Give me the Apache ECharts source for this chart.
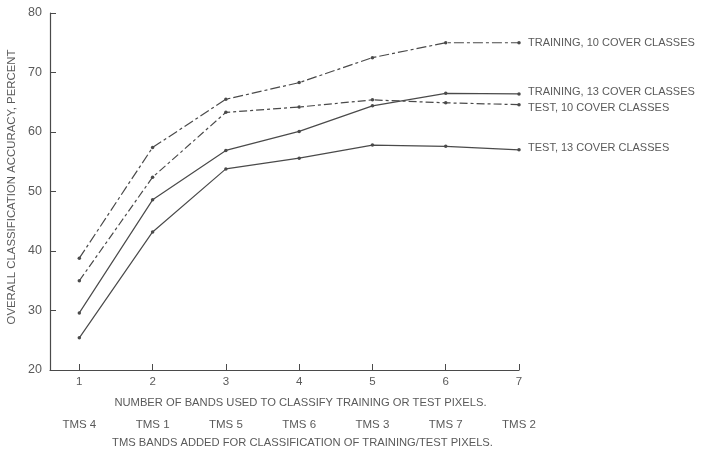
<!DOCTYPE html>
<html><head><meta charset="utf-8">
<script src="https://cdn.jsdelivr.net/npm/echarts@6/dist/echarts.min.js"></script>
<style>html,body{margin:0;padding:0;background:#fff}#c{width:701px;height:450px}</style>
</head><body><div id="c"></div>
<script>
var bands = [1, 2, 3, 4, 5, 6, 7];
var tmsLabels = ['TMS 4', 'TMS 1', 'TMS 5', 'TMS 6', 'TMS 3', 'TMS 7', 'TMS 2'];
var yTicks = [20, 30, 40, 50, 60, 70, 80];
var training10 = [38.8, 57.4, 65.5, 68.3, 72.5, 75.0, 75.0];
var test10 = [35.0, 52.4, 63.3, 64.2, 65.4, 64.9, 64.6];
var training13 = [29.6, 48.6, 56.9, 60.1, 64.4, 66.5, 66.4];
var test13 = [25.4, 43.2, 53.8, 55.6, 57.8, 57.6, 57.0];
var seriesNames = ['TRAINING, 10 COVER CLASSES', 'TRAINING, 13 COVER CLASSES', 'TEST, 10 COVER CLASSES', 'TEST, 13 COVER CLASSES'];

function pairs(v) { return bands.map(function (b, i) { return [b, v[i]]; }); }
var ink = '#4a4a4a';
var txt = '#5a5a5a';
var font = 'Liberation Sans';

function mk(name, vals, dash, off) {
  return {
    name: name, type: 'line', data: pairs(vals),
    symbol: 'circle', symbolSize: 3.5,
    lineStyle: { color: ink, width: 1.2, type: dash },
    itemStyle: { color: ink },
    endLabel: { show: true, formatter: name, color: txt, fontFamily: font, fontSize: 11, distance: 9, offset: off },
    animation: false
  };
}

var chart = echarts.init(document.getElementById('c'));
chart.setOption({
  backgroundColor: '#fff',
  animation: false,
  grid: { left: 50, right: 182, top: 13, bottom: 80, containLabel: false, outerBoundsMode: 'none' },
  xAxis: [{
    type: 'value', min: 0.6, max: 7,
    axisLine: { lineStyle: { color: ink, width: 1.2 } },
    axisTick: { inside: true, length: 6, customValues: bands, lineStyle: { color: ink } },
    axisLabel: { customValues: bands, color: txt, fontFamily: font, fontSize: 11.5, margin: 6 },
    splitLine: { show: false },
    name: 'NUMBER OF BANDS USED TO CLASSIFY TRAINING OR TEST PIXELS.',
    nameLocation: 'middle', nameGap: 27,
    nameTextStyle: { color: txt, fontFamily: font, fontSize: 11.2, padding: [0, 0, 0, 32] }
  }, {
    type: 'value', min: 0.6, max: 7, position: 'bottom', offset: 45,
    axisLine: { show: false }, axisTick: { show: false }, splitLine: { show: false },
    axisLabel: { customValues: bands, color: txt, fontFamily: font, fontSize: 11.5, margin: 4,
      formatter: function (v) { return tmsLabels[bands.indexOf(Math.round(v))] || ''; } },
    name: 'TMS BANDS ADDED FOR CLASSIFICATION OF TRAINING/TEST PIXELS.',
    nameLocation: 'middle', nameGap: 22,
    nameTextStyle: { color: txt, fontFamily: font, fontSize: 11.2, padding: [0, 0, 0, 36] }
  }],
  yAxis: {
    type: 'value', min: 20, max: 80, interval: 10,
    axisLine: { show: true, lineStyle: { color: ink, width: 1.2 } },
    axisTick: { show: true, inside: true, length: 6, lineStyle: { color: ink } },
    axisLabel: { color: txt, fontFamily: font, fontSize: 12.5, margin: 8 },
    splitLine: { show: false },
    name: 'OVERALL CLASSIFICATION ACCURACY, PERCENT',
    nameLocation: 'middle', nameGap: 33,
    nameTextStyle: { color: txt, fontFamily: font, fontSize: 11.4, padding: [0, 0, 0, 9] }
  },
  series: [
    mk(seriesNames[0], training10, [10, 3, 3, 3], [0, 0]),
    mk(seriesNames[1], training13, 'solid', [0, -2]),
    mk(seriesNames[2], test10, [8, 3, 3, 3], [0, 3]),
    mk(seriesNames[3], test13, 'solid', [0, -2])
  ]
});
</script></body></html>
